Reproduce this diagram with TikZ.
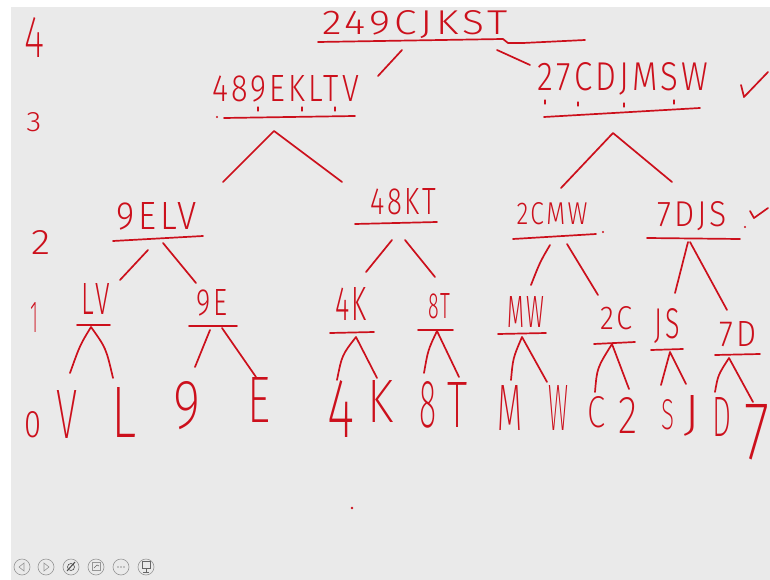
\documentclass[tikz,border=0pt]{standalone}
\usepackage{fontspec}
\usepackage{graphicx}
\newfontfamily\hand[LetterSpace=10]{Fira Sans Light}
\newfontfamily\handthin{Fira Sans ExtraLight}
\definecolor{ink}{RGB}{204,16,28}
\definecolor{board}{RGB}{234,234,234}
\definecolor{icon}{RGB}{150,150,150}
\newcommand\hw[3]{\resizebox{#1pt}{#2pt}{\hand #3}}
\newcommand\hwt[3]{\resizebox{#1pt}{#2pt}{\handthin #3}}
\tikzset{
  lbl/.style={inner sep=0pt, text=ink},
  ink line/.style={draw=ink, line width=1.7pt, line cap=round, line join=round},
  btn/.style={draw=icon, line width=0.6pt, circle, minimum size=16pt, inner sep=0pt}
}
\begin{document}
\begin{tikzpicture}[x=1pt,y=-1pt]
\useasboundingbox (0,0) rectangle (770,580);
\fill[white] (0,0) rectangle (770,580);
\fill[board] (11,7) rectangle (770,580);

% level numbers
\node[lbl] (l4) at (35,38) {\hwt{20}{40}{4}};
\node[lbl] (l3) at (34,122) {\hw{15}{19}{3}};
\node[lbl] (l2) at (41,242) {\hw{19}{24}{2}};
\node[lbl] (l1) at (35,317) {\hwt{8}{30}{1}};
\node[lbl] (l0) at (33,425) {\hw{17}{26}{0}};

% level 4
\node[lbl] (root) at (415,25) {\hw{185}{24}{249CJKST}};
\draw[ink line] (318,42) -- (503,39) -- (508,43) -- (523,43) -- (585,40);
\draw[ink line] (402,50) -- (378,76);
\draw[ink line] (497,50) -- (530,65);

% level 3
\node[lbl] (a) at (286,89) {\hw{146}{26}{489EKLTV}};
\draw[ink line] (224,118) -- (355,116);
\fill[ink] (217,117) circle (1.2);
\foreach \x in {258,302,335} \draw[ink line, line width=1.2pt] (\x,107) -- (\x,111);
\draw[ink line] (223,182) -- (274,131) -- (342,182);

\node[lbl] (b) at (623,79) {\hw{170}{28}{27CDJMSW}};
\draw[ink line] (544,117) -- (700,108);
\foreach \x/\y in {545/100,578/102,624/103,674/100} \draw[ink line, line width=1.2pt] (\x,\y) -- (\x,\y+4);
\draw[ink line] (561,188) -- (613,133) -- (672,182);
\draw[ink line] (741,85) -- (744,97) -- (768,72);

% level 2
\node[lbl] (c) at (157,216) {\hw{80}{27}{9ELV}};
\draw[ink line] (113,241) -- (203,236);
\draw[ink line] (148,250) -- (120,280);
\draw[ink line] (163,243) -- (196,283);

\node[lbl] (d) at (403,202) {\hw{66}{26}{48KT}};
\draw[ink line] (355,224) -- (437,222);
\draw[ink line] (392,240) -- (366,272);
\draw[ink line] (405,240) -- (435,277);

\node[lbl] (e) at (552,214) {\hw{71}{22}{2CMW}};
\draw[ink line] (513,239) -- (596,234);
\fill[ink] (603,232) circle (1.2);
\draw[ink line] (550,245) .. controls (540,262) .. (531,285);
\draw[ink line] (567,244) -- (598,295);

\node[lbl] (f) at (692,216) {\hw{70}{25}{7DJS}};
\draw[ink line] (647,238) -- (740,239);
\fill[ink] (745,227) circle (1.2);
\draw[ink line] (750,211) -- (754,218) -- (768,208);
\draw[ink line] (688,242) -- (675,293);
\draw[ink line] (690,242) -- (727,310);

% level 1
\node[lbl] (g) at (96,299) {\hw{28}{31}{LV}};
\draw[ink line] (77,325) -- (110,325);
\draw[ink line] (70,373) .. controls (80,345) .. (91,327) .. controls (106,348) .. (113,378);

\node[lbl] (h) at (212,303) {\hw{31}{26}{9E}};
\draw[ink line] (189,326) -- (237,326);
\draw[ink line] (210,330) -- (195,367);
\draw[ink line] (222,328) -- (256,377);

\node[lbl] (i) at (351,304) {\hw{32}{33}{4K}};
\draw[ink line] (330,333) -- (374,332);
\draw[ink line] (337,380) .. controls (342,355) .. (356,337) -- (377,378);

\node[lbl] (j) at (439,306) {\hw{22}{25}{8T}};
\draw[ink line] (418,330) -- (453,330);
\draw[ink line] (424,373) .. controls (428,350) .. (437,331) -- (459,377);

\node[lbl] (k) at (526,312) {\hw{37}{31}{MW}};
\draw[ink line] (498,334) -- (546,333);
\draw[ink line] (511,380) .. controls (513,358) .. (522,337) -- (547,382);

\node[lbl] (m) at (616,318) {\hw{32}{23}{2C}};
\draw[ink line] (594,344) -- (635,342);
\draw[ink line] (595,392) .. controls (597,368) .. (612,344) -- (629,389);

\node[lbl] (n) at (667,326) {\hw{25}{30}{JS}};
\draw[ink line] (651,350) -- (683,349);
\draw[ink line] (661,385) -- (670,352) -- (686,384);

\node[lbl] (o) at (738,334) {\hw{37}{25}{7D}};
\draw[ink line] (715,355) -- (760,354);
\draw[ink line] (715,392) .. controls (718,375) .. (729,358) -- (753,402);

% level 0 leaves
\foreach \t/\x/\y/\w/\h in {V/67/414/21/48, L/124/412/25/50, 9/187/406/27/47, E/259/400/23/45,
  4/341/409/27/57, K/380/401/26/42, 8/428/405/17/46, T/457/405/20/45, M/510/408/25/45,
  W/558/408/20/45, C/596/412/18/31, 2/628/415/19/36, S/668/415/13/30, J/692/416/17/35,
  D/722/417/19/39, 7/757/432/25/55}
  \node[lbl] (leaf\t) at (\x,\y) {\hwt{\w}{\h}{\t}};

\fill[ink] (352,508) circle (1.4);

% toolbar
\foreach \x/\nm in {22/p1,46/p2,71/p3,96/p4,121/p5,146/p6}
  \node[btn] (\nm) at (\x,567) {};
\draw[icon, line width=0.6pt] (24,563) -- (19,567) -- (24,571) -- cycle;
\draw[icon, line width=0.6pt] (44,563) -- (49,567) -- (44,571) -- cycle;
\draw[black!70, line width=1pt] (67,571) -- (75,562);
\draw[black!70, line width=0.6pt] (71,567) circle (3.5);
\draw[icon, line width=0.6pt] (92,562) rectangle (100,570);
\draw[black!60, line width=0.6pt] (94,568) -- (97,565) -- (99,566);
\foreach \dx in {-3,0,3} \fill[icon] (121+\dx,567) circle (0.8);
\draw[black!60, line width=0.6pt] (142,561) rectangle (150,568);
\draw[black!60, line width=0.6pt] (146,568) -- (146,572) (143,572) -- (149,572);
\end{tikzpicture}
\end{document}
